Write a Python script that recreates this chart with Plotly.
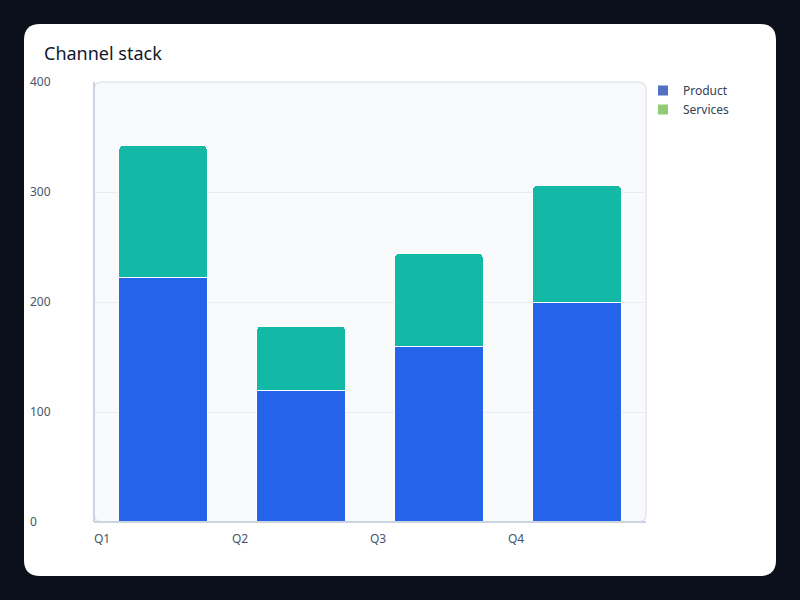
import plotly.graph_objects as go

quarters = ["Q1", "Q2", "Q3", "Q4"]
product = [222, 120, 160, 200]
services = [120, 58, 84, 106]
y_ticks = [0, 100, 200, 300, 400]

W, H = 800, 600

def px(x):
    return x / W

def py(y):
    return 1 - y / H

def round_rect(x0, y0, x1, y1, r):
    # rounded rectangle path in paper coords, input in pixels
    pts = [
        f"M {px(x0 + r)} {py(y0)}",
        f"L {px(x1 - r)} {py(y0)}",
        f"Q {px(x1)} {py(y0)} {px(x1)} {py(y0 + r)}",
        f"L {px(x1)} {py(y1 - r)}",
        f"Q {px(x1)} {py(y1)} {px(x1 - r)} {py(y1)}",
        f"L {px(x0 + r)} {py(y1)}",
        f"Q {px(x0)} {py(y1)} {px(x0)} {py(y1 - r)}",
        f"L {px(x0)} {py(y0 + r)}",
        f"Q {px(x0)} {py(y0)} {px(x0 + r)} {py(y0)}",
        "Z",
    ]
    return " ".join(pts)

xpos = [i + 0.5 for i in range(len(quarters))]

fig = go.Figure()
fig.add_trace(go.Bar(x=xpos, y=product, name="Product", width=0.64,
                     marker=dict(color="#2563eb", line=dict(color="#ffffff", width=1)),
                     showlegend=False))
fig.add_trace(go.Bar(x=xpos, y=services, name="Services", width=0.64,
                     marker=dict(color="#14b8a6", line=dict(color="#ffffff", width=1)),
                     showlegend=False))
# legend entries (palette differs from bar fill in the original)
fig.add_trace(go.Scatter(x=[None], y=[None], mode="markers", name="Product", yaxis="y2",
                         marker=dict(symbol="square", size=10, color="#5470c6")))
fig.add_trace(go.Scatter(x=[None], y=[None], mode="markers", name="Services", yaxis="y2",
                         marker=dict(symbol="square", size=10, color="#91cc75")))

shapes = [
    dict(type="path", xref="paper", yref="paper", layer="below",
         path=round_rect(24, 24, 776, 576, 16), fillcolor="#ffffff", line=dict(width=0)),
    dict(type="path", xref="paper", yref="paper", layer="below",
         path=round_rect(94, 82, 646, 522, 8), fillcolor="#f8fafc",
         line=dict(color="#e2e8f0", width=1.5)),
    dict(type="line", xref="paper", yref="paper", layer="above",
         x0=px(94), x1=px(94), y0=py(522), y1=py(82), line=dict(color="#cbd5e1", width=2)),
    dict(type="line", xref="paper", yref="paper", layer="above",
         x0=px(94), x1=px(646), y0=py(522), y1=py(522), line=dict(color="#cbd5e1", width=2)),
]

fig.update_layout(
    width=W, height=H,
    margin=dict(l=0, r=0, t=0, b=0, autoexpand=False),
    paper_bgcolor="#0b0f19",
    plot_bgcolor="rgba(0,0,0,0)",
    font=dict(family="Noto Sans", color="#475569", size=12),
    barmode="stack",
    barcornerradius=4,
    title=dict(text="Channel stack", x=px(44), xanchor="left", y=py(54), yanchor="middle",
               font=dict(size=18, color="#0f172a")),
    xaxis=dict(domain=[px(94), px(646)], range=[0, 4], tickvals=list(range(len(quarters))),
               ticktext=quarters, ticklabelposition="outside right", showgrid=False,
               zeroline=False, showline=False, ticks="", ticklabelstandoff=8),
    yaxis=dict(domain=[py(522), py(82)], range=[0, 400], tickvals=y_ticks,
               showticklabels=False, gridcolor="#e9edf3", gridwidth=1,
               zeroline=False, showline=False, ticks=""),
    yaxis2=dict(overlaying="y", anchor="free", position=px(29), side="right",
                range=[0, 400], tickvals=y_ticks, showgrid=False, zeroline=False,
                showline=False, ticks=""),
    legend=dict(x=px(643), y=py(76), xanchor="left", yanchor="top", traceorder="normal",
                font=dict(size=12, color="#334155"), bgcolor="rgba(0,0,0,0)"),
    shapes=shapes,
)

fig.write_html("out.html", config={"displayModeBar": False},
               post_script="document.body.style.margin='0';")
